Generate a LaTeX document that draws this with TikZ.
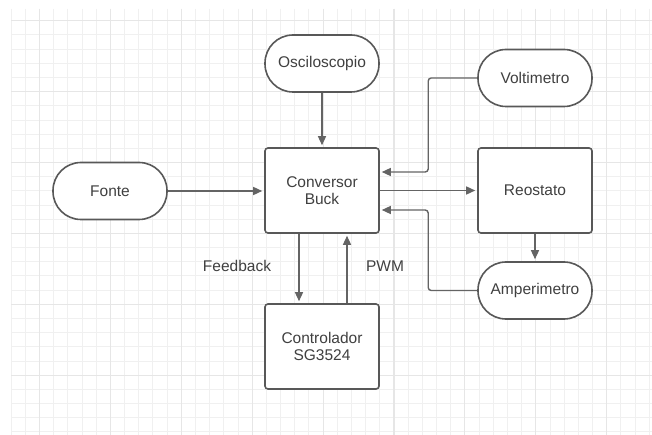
\documentclass[tikz,border=0pt]{standalone}
\usepackage{fontspec}
\setmainfont{Liberation Sans}
\usetikzlibrary{arrows.meta,positioning,calc}
\definecolor{InkGray}{RGB}{64,64,64}
\definecolor{EdgeGray}{RGB}{88,88,88}
\definecolor{WireGray}{RGB}{100,100,100}
\definecolor{GridMinor}{RGB}{240,240,240}
\definecolor{GridMajor}{RGB}{230,230,230}
\tikzset{
  >=Triangle,
  block/.style={draw=EdgeGray,line width=1.6pt,rounded corners=3pt,fill=white,align=center,text=InkGray,font=\fontsize{15.5}{17.3}\selectfont,minimum width=114pt,minimum height=85pt,inner sep=0pt},
  terminal/.style={block,rounded corners=28pt,minimum height=57pt},
  wire/.style={-{Triangle[length=9pt,width=8pt]},line width=1.4pt,draw=WireGray,rounded corners=3pt,shorten >=2pt},
  tag/.style={text=InkGray,font=\fontsize{15.5}{17.3}\selectfont},
  minorgrid/.style={draw=GridMinor,line width=0.9pt},
  majorgrid/.style={draw=GridMajor,line width=1.1pt}
}
\begin{document}
\begin{tikzpicture}[x=1pt,y=-1pt]
  \useasboundingbox[fill=white] (0,0) rectangle (652,435);
  % grid
  \foreach \i in {0,...,45} \draw[minorgrid] ({11.1+14.18*\i},9) -- ({11.1+14.18*\i},435);
  \foreach \i in {0,...,29} \draw[minorgrid] (11,{20.7+14.18*\i}) -- (652,{20.7+14.18*\i});
  \foreach \i in {0,...,8} \draw[majorgrid] ({39.5+70.9*\i},9) -- ({39.5+70.9*\i},435);
  \foreach \i in {0,...,5} \draw[majorgrid] (11,{20.7+70.9*\i}) -- (652,{20.7+70.9*\i});

  \node[terminal] (osc) at (322,63.5) {Osciloscopio};
  \node[terminal] (volt) at (535,78) {Voltimetro};
  \node[terminal] (fonte) at (110,191) {Fonte};
  \node[block] (buck) at (322,190.5) {Conversor\\Buck};
  \node[block] (reo) at (535,190.5) {Reostato};
  \node[terminal] (amp) at (535,290.5) {Amperimetro};
  \node[block] (ctrl) at (322,346.5) {Controlador\\SG3524};
  \node[tag] (fb) at (237,266) {Feedback};
  \node[tag] (pwm) at (385,266) {PWM};

  \draw[wire] (osc) -- (buck);
  \draw[wire] (fonte.east) -- (fonte.east -| buck.west);
  \draw[wire] (buck.east) -- (reo.west);
  \draw[wire] (reo) -- (amp);
  \draw[wire] (volt.west) -- ++(-49,0) |- ([yshift=18.5pt]buck.east);
  \draw[wire] (amp.west) -- ++(-49,0) |- ([yshift=-19.5pt]buck.east);
  \draw[wire] ([xshift=-23pt]buck.south) -- ([xshift=-23pt]ctrl.north);
  \draw[wire] ([xshift=25pt]ctrl.north) -- ([xshift=25pt]buck.south);
\end{tikzpicture}
\end{document}
